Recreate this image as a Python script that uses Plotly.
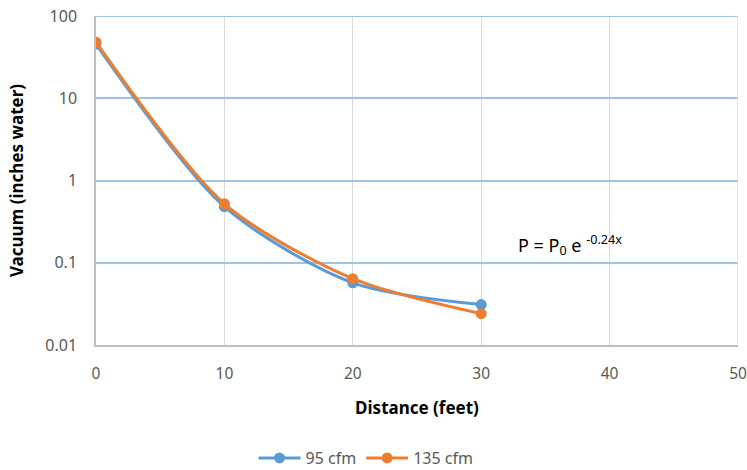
import plotly.graph_objects as go

distance = [0, 10, 20, 30]
vac_95 = [45.5, 0.48, 0.057, 0.031]
vac_135 = [48.0, 0.52, 0.064, 0.024]
y_ticks = [0.01, 0.1, 1, 10, 100]
y_tick_labels = ["0.01", "0.1", "1", "10", "100"]
x_ticks = [0, 10, 20, 30, 40, 50]

BLUE = "#5B9BD5"
ORANGE = "#ED7D31"
FONT = "Noto Sans"

fig = go.Figure()
fig.add_trace(go.Scatter(x=distance, y=vac_95, name="95 cfm", mode="lines+markers",
                         line=dict(color=BLUE, width=3, shape="spline", smoothing=0.8),
                         marker=dict(color=BLUE, size=11)))
fig.add_trace(go.Scatter(x=distance, y=vac_135, name="135 cfm", mode="lines+markers",
                         line=dict(color=ORANGE, width=3, shape="spline", smoothing=0.8),
                         marker=dict(color=ORANGE, size=11)))

fig.update_layout(
    width=747, height=470,
    margin=dict(l=96, r=9, t=16, b=125),
    paper_bgcolor="white", plot_bgcolor="white",
    font=dict(family=FONT, size=16, color="#595959"),
    showlegend=True,
    legend=dict(orientation="h", xref="container", yref="container",
                x=0.49, xanchor="center", y=0.0255, yanchor="middle",
                font=dict(size=16, color="#595959"), itemwidth=42),
    xaxis=dict(range=[0, 50], tickvals=x_ticks, showgrid=True, gridcolor="#D9D9D9",
               gridwidth=1, zeroline=False, showline=True, linecolor="#BFBFBF", linewidth=1.5,
               mirror=False, ticks="", ticklabelstandoff=14, automargin=False,
               ticklabeloverflow="allow", tickfont=dict(size=15.5),
               title=dict(text="<b>Distance (feet)</b>", font=dict(size=17, color="#000000"), standoff=19)),
    yaxis=dict(type="log", range=[-2, 2], tickvals=y_ticks, ticktext=y_tick_labels,
               showgrid=True, gridcolor="#9DC3E6", gridwidth=2, zeroline=False,
               showline=True, linecolor="#BFBFBF", linewidth=1.5, ticks="", ticklabelstandoff=14,
               automargin=False, ticklabeloverflow="allow",
               title=dict(text="<b>Vacuum (inches water)</b>", font=dict(size=17, color="#000000"), standoff=17)),
)
# top gridline at 100 and right gridline at 50
fig.add_hline(y=100, line=dict(color="#9DC3E6", width=2))
fig.add_vline(x=50, line=dict(color="#D9D9D9", width=1.5))
fig.add_annotation(x=32.7, y=-0.78, xref="x", yref="y", xanchor="left", yanchor="middle",
                   text="P = P<sub>0</sub> e <sup>-0.24x</sup>", showarrow=False,
                   font=dict(size=18, color="#000000", family=FONT))

fig.write_html("out.html", config={"displayModeBar": False},
               post_script="document.body.style.margin='0';document.body.style.overflow='hidden';")
